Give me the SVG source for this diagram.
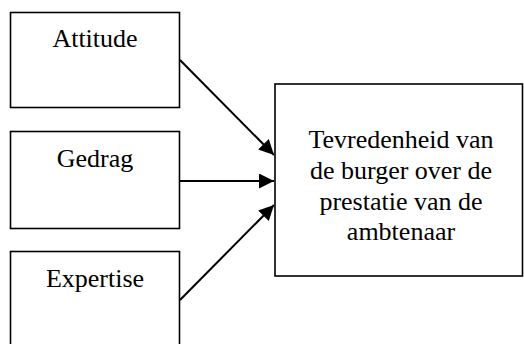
<svg xmlns="http://www.w3.org/2000/svg" width="524" height="344" viewBox="0 0 524 344">
<style>
.box{fill:#fff;stroke:#000;stroke-width:1.6}
.lbl{font-family:"Liberation Serif","Times New Roman",serif;font-size:26px;fill:#000;text-anchor:middle}
.conn{stroke:#000;stroke-width:2;fill:none;marker-end:url(#arr)}
</style>
<defs>
<marker id="arr" markerUnits="userSpaceOnUse" markerWidth="16" markerHeight="16" refX="15" refY="7.5" orient="auto" viewBox="0 0 16 16">
<path d="M0,0 L15,7.5 L0,15 z" fill="#000"/>
</marker>
</defs>
<rect width="524" height="344" fill="#fff"/>
<g id="attitude">
<rect class="box" x="10.5" y="12.5" width="169" height="95"/>
<text class="lbl" x="95" y="47">Attitude</text>
</g>
<g id="gedrag">
<rect class="box" x="10.5" y="131.5" width="169" height="97"/>
<text class="lbl" x="95" y="167">Gedrag</text>
</g>
<g id="expertise">
<rect class="box" x="10.5" y="251.5" width="169" height="100"/>
<text class="lbl" x="95" y="287">Expertise</text>
</g>
<g id="tevredenheid">
<rect class="box" x="275" y="84" width="247.5" height="192"/>
<text class="lbl" x="401"><tspan x="401" y="148">Tevredenheid van</tspan><tspan x="401" y="179">de burger over de</tspan><tspan x="401" y="210">prestatie van de</tspan><tspan x="401" y="240">ambtenaar</tspan></text>
</g>
<g id="connectors">
<line class="conn" x1="180" y1="60" x2="274" y2="155"/>
<line class="conn" x1="180" y1="181" x2="274" y2="181"/>
<line class="conn" x1="180" y1="300" x2="274" y2="205"/>
</g>
</svg>
